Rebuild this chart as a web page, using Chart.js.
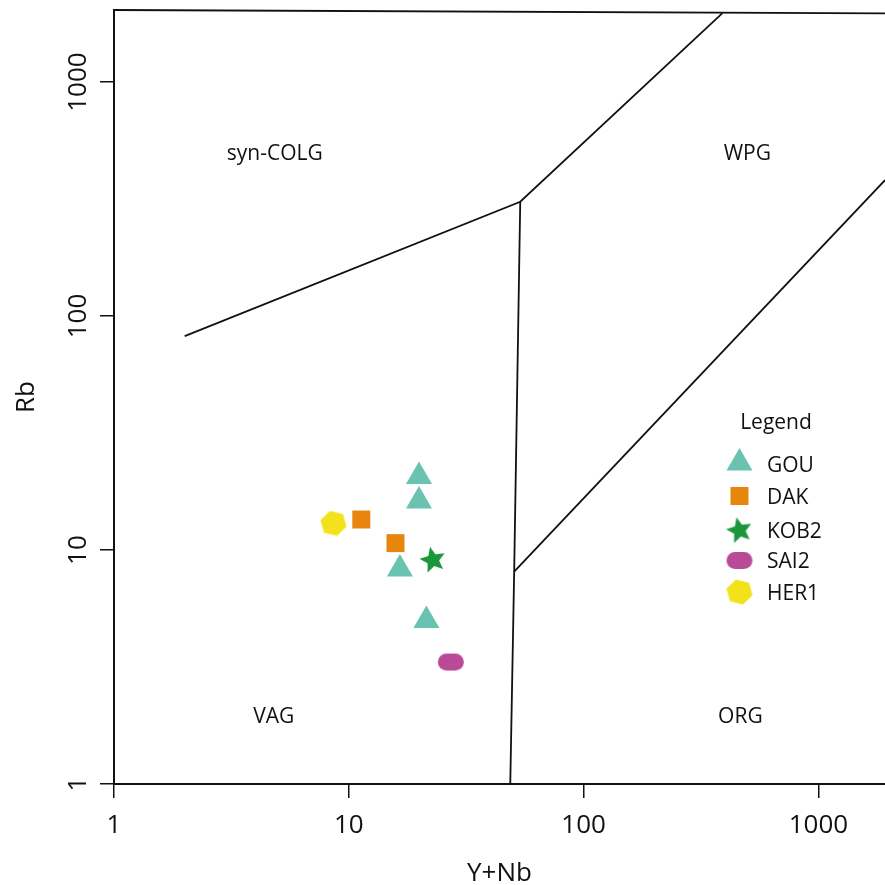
<!DOCTYPE html>
<html>
<head>
<meta charset="utf-8">
<title>Rb vs Y+Nb</title>
<script src="https://cdn.jsdelivr.net/npm/chart.js@4.4.1/dist/chart.umd.min.js"></script>
<style>
    html, body { margin: 0; padding: 0; background: #fff; }
    canvas { display: block; }
</style>
</head>
<body>
<canvas id="diagram" width="885" height="885"></canvas>
<script>
"use strict"

// Sample groups (Y+Nb and Rb in ppm)
const groups = ['GOU', 'DAK', 'KOB2', 'SAI2', 'HER1'];
const gouYNb = [19.9, 19.9, 16.5, 21.4];
const gouRb = [20.6, 16.2, 8.3, 5.0];
const dakYNb = [11.3, 15.8];
const dakRb = [13.5, 10.7];
const kob2YNb = [22.8];
const kob2Rb = [9.06];
const sai2YNb = [27.2];
const sai2Rb = [3.32];
const her1YNb = [8.6];
const her1Rb = [13.0];

// Field boundaries, one polyline per entry
const boundaryYNb = [[1, 1920], [2, 53.7, 390], [53.7, 50.6, 48.7], [50.6, 1920]];
const boundaryRb = [[2032, 1966], [82, 308, 1970], [308, 8.08, 1], [8.08, 381]];

// Field names and where they sit
const fieldNames = ['syn-COLG', 'WPG', 'VAG', 'ORG'];
const fieldYNb = [4.84, 498, 4.79, 465];
const fieldRb = [502, 502, 1.96, 1.96];

const xTicks = [1, 10, 100, 1000];
const yTicks = [1, 10, 100, 1000];

const FONT = '"Open Sans", "Noto Sans", sans-serif';
const INK = '#111';

/**
 * Builds a small canvas to be used as a point style.
 */
function makeMarker(w, h, draw) {
    const c = document.createElement('canvas');
    c.width = w;
    c.height = h;
    const g = c.getContext('2d');
    draw(g, w / 2, h / 2);
    return c;
}

const starMarker = makeMarker(30, 30, (g, cx, cy) => {
    g.fillStyle = '#1b963a';
    g.beginPath();
    for (let i = 0; i < 10; i++) {
        const r = i % 2 ? 6.2 : 13.5;
        const a = -Math.PI / 2 - 0.22 + i * Math.PI / 5;
        const px = cx + r * Math.cos(a);
        const py = cy + r * Math.sin(a);
        if (i === 0) g.moveTo(px, py); else g.lineTo(px, py);
    }
    g.closePath();
    g.fill();
});

const pillMarker = makeMarker(28, 19, (g, cx, cy) => {
    g.fillStyle = '#b94b96';
    g.beginPath();
    g.roundRect(cx - 13, cy - 8.5, 26, 17, 8.5);
    g.fill();
});

const hexMarker = makeMarker(30, 30, (g, cx, cy) => {
    g.fillStyle = '#f3e21b';
    g.beginPath();
    for (let i = 0; i < 6; i++) {
        const a = 0.26 + i * Math.PI / 3;
        const px = cx + 13.5 * Math.cos(a);
        const py = cy + 13 * Math.sin(a);
        if (i === 0) g.moveTo(px, py); else g.lineTo(px, py);
    }
    g.closePath();
    g.fill();
});

function toPoints(xs, ys) {
    return xs.map((x, i) => ({ x: x, y: ys[i] }));
}

const sampleSets = [
    { label: groups[0], data: toPoints(gouYNb, gouRb), pointStyle: 'triangle', pointRadius: 15, backgroundColor: '#6ac2b1' },
    { label: groups[1], data: toPoints(dakYNb, dakRb), pointStyle: 'rect', pointRadius: 12.7, backgroundColor: '#e8850c' },
    { label: groups[2], data: toPoints(kob2YNb, kob2Rb), pointStyle: starMarker, pointRadius: 14, backgroundColor: '#1b963a' },
    { label: groups[3], data: toPoints(sai2YNb, sai2Rb), pointStyle: pillMarker, pointRadius: 13, backgroundColor: '#b94b96' },
    { label: groups[4], data: toPoints(her1YNb, her1Rb), pointStyle: hexMarker, pointRadius: 14, backgroundColor: '#f3e21b' }
].map(ds => Object.assign(ds, { borderWidth: 0, pointHoverRadius: ds.pointRadius, order: 0 }));

const boundarySets = boundaryYNb.map((xs, i) => ({
    label: 'boundary' + i,
    data: toPoints(xs, boundaryRb[i]),
    showLine: true,
    pointRadius: 0,
    borderColor: INK,
    borderWidth: 1.8,
    clip: false,
    order: 1
}));

// Field names drawn at their data positions
const fieldLabels = {
    id: 'fieldLabels',
    afterDatasetsDraw(chart) {
        const { ctx, scales } = chart;
        ctx.save();
        ctx.fillStyle = INK;
        ctx.font = '21px ' + FONT;
        ctx.textAlign = 'center';
        ctx.textBaseline = 'alphabetic';
        fieldNames.forEach((name, i) => {
            const px = scales.x.getPixelForValue(fieldYNb[i]);
            const py = scales.y.getPixelForValue(fieldRb[i]);
            ctx.fillText(name, px, py + 7.5);
        });
        ctx.restore();
    }
};

// Legend box inside the plot, right side
const legendBox = {
    id: 'legendBox',
    afterDraw(chart) {
        const ctx = chart.ctx;
        const rows = [463, 496, 530.5, 560.5, 592];
        ctx.save();
        ctx.fillStyle = INK;
        ctx.font = '21px ' + FONT;
        ctx.textBaseline = 'alphabetic';
        ctx.textAlign = 'center';
        ctx.fillText('Legend', 776, 429);
        ctx.textAlign = 'left';
        sampleSets.forEach((ds, i) => {
            ctx.fillStyle = ds.backgroundColor;
            Chart.helpers.drawPoint(ctx, {
                pointStyle: ds.pointStyle,
                radius: ds.pointRadius,
                rotation: 0,
                borderWidth: 0
            }, 739.5, rows[i]);
            ctx.fillStyle = INK;
            ctx.fillText(ds.label, 767, (i === 0 ? 464 : rows[i]) + 7.5);
        });
        ctx.restore();
    }
};

const tickFont = { family: FONT, size: 26 };

new Chart(document.getElementById('diagram'), {
    type: 'scatter',
    data: { datasets: sampleSets.concat(boundarySets) },
    options: {
        responsive: false,
        animation: false,
        events: [],
        layout: { autoPadding: false, padding: { top: 10, right: 0, bottom: 0, left: 0 } },
        plugins: {
            legend: { display: false },
            tooltip: { enabled: false }
        },
        scales: {
            x: {
                type: 'logarithmic',
                min: 1,
                max: 1920,
                afterBuildTicks: scale => { scale.ticks = xTicks.map(v => ({ value: v })); },
                afterFit: scale => {
                    scale.height = 101;
                    scale.paddingLeft = 0;
                    scale.paddingRight = 0;
                },
                ticks: {
                    font: tickFont,
                    color: INK,
                    padding: 12,
                    maxRotation: 0,
                    autoSkip: false,
                    callback: v => String(v)
                },
                grid: { drawOnChartArea: false, tickLength: 14, color: INK, lineWidth: 1.5 },
                border: { color: INK, width: 2 },
                title: {
                    display: true,
                    text: 'Y+Nb',
                    color: INK,
                    font: { family: FONT, size: 26, lineHeight: 1 },
                    padding: { top: 0, bottom: -2 }
                }
            },
            y: {
                type: 'logarithmic',
                min: 1,
                max: 2032,
                afterBuildTicks: scale => { scale.ticks = yTicks.map(v => ({ value: v })); },
                afterFit: scale => {
                    scale.width = 114;
                    scale.paddingTop = 0;
                    scale.paddingBottom = 0;
                },
                ticks: {
                    font: tickFont,
                    color: INK,
                    padding: -8,
                    minRotation: 90,
                    maxRotation: 90,
                    crossAlign: 'center',
                    autoSkip: false,
                    callback: v => String(v)
                },
                grid: { drawOnChartArea: false, tickLength: 14, color: INK, lineWidth: 1.5 },
                border: { color: INK, width: 2 },
                title: {
                    display: true,
                    text: 'Rb',
                    color: INK,
                    font: { family: FONT, size: 26, lineHeight: 1 },
                    padding: { top: 14, bottom: 0 }
                }
            }
        }
    },
    plugins: [fieldLabels, legendBox]
});
</script>
</body>
</html>
